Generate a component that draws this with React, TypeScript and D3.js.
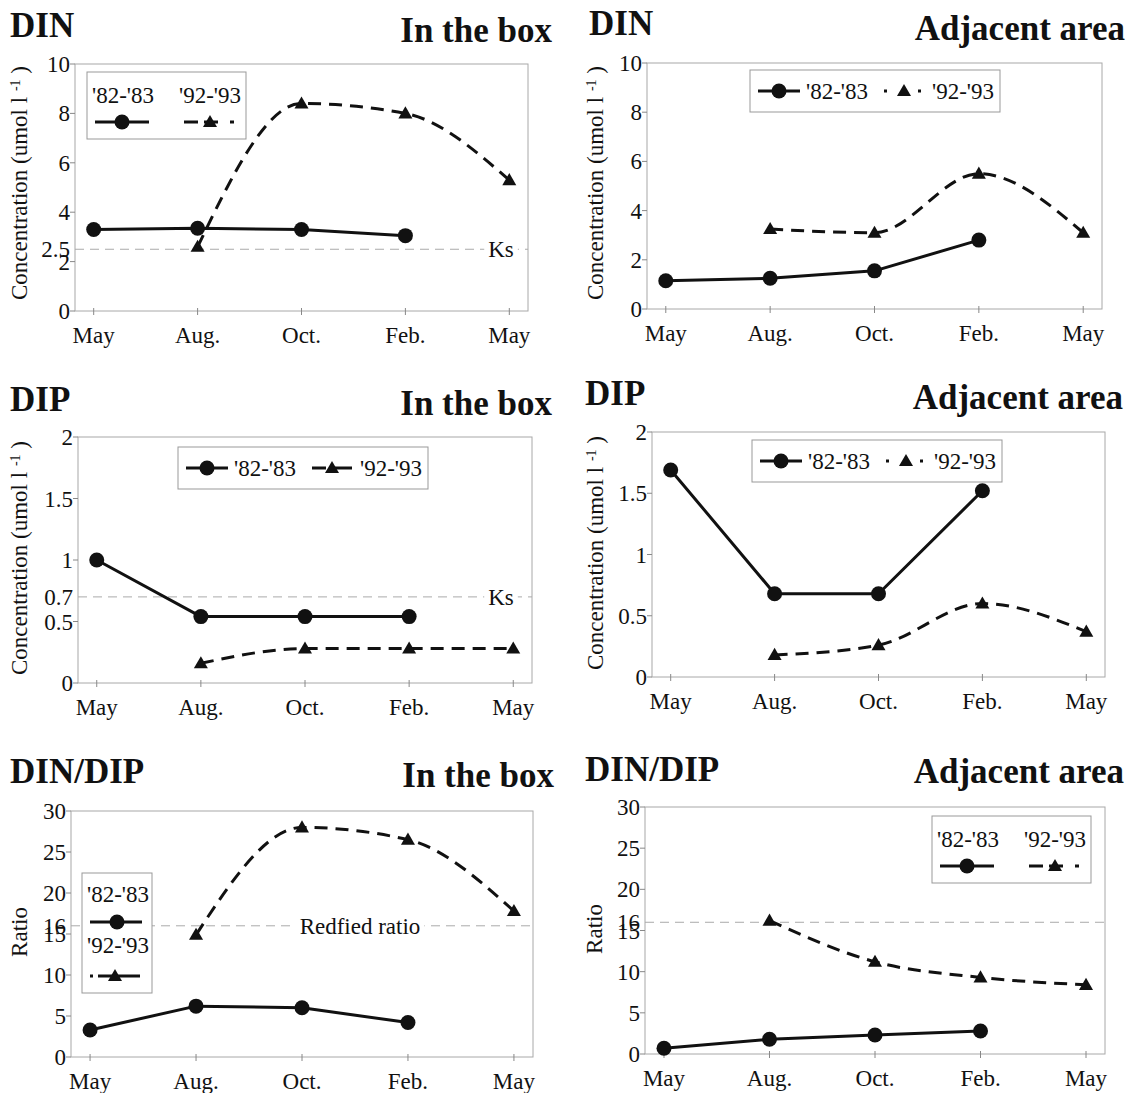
import React, { useEffect, useRef } from "react";
import * as d3 from "d3";

const meses = ["May", "Aug.", "Oct.", "Feb.", "May"];
const series = ["'82-'83", "'92-'93"];

// DIN (umol l-1)
const dinBox8283 = [3.3, 3.35, 3.3, 3.05, null];
const dinBox9293 = [null, 2.6, 8.4, 8.0, 5.3];
const dinAdj8283 = [1.15, 1.25, 1.55, 2.8, null];
const dinAdj9293 = [null, 3.25, 3.1, 5.5, 3.1];

// DIP (umol l-1)
const dipBox8283 = [1.0, 0.54, 0.54, 0.54, null];
const dipBox9293 = [null, 0.16, 0.28, 0.28, 0.28];
const dipAdj8283 = [1.69, 0.68, 0.68, 1.52, null];
const dipAdj9293 = [null, 0.18, 0.26, 0.6, 0.37];

// DIN/DIP
const ratioBox8283 = [3.3, 6.2, 6.0, 4.2, null];
const ratioBox9293 = [null, 14.9, 28.0, 26.5, 17.8];
const ratioAdj8283 = [0.7, 1.8, 2.3, 2.8, null];
const ratioAdj9293 = [null, 16.2, 11.2, 9.3, 8.4];

const dinTicks = [0, 2, 4, 6, 8, 10];
const dipTicks = [0, 0.5, 1, 1.5, 2];
const ratioTicks = [0, 5, 10, 15, 20, 25, 30];

const dinKs = 2.5;
const dipKs = 0.7;
const redfield = 16;

const FONTE = "'Liberation Serif', 'Times New Roman', serif";

type Painel = {
  titulo: string;
  local: string;
  a: (number | null)[];
  b: (number | null)[];
  max: number;
  ticks: number[];
  ref: number | null;
  refTick: boolean;
  refTexto: string;
  refX: number;
  eixo: string;
  box: number[]; // esquerda, direita, topo, base
  tit: number[]; // x titulo, baseline, fim do local, baseline
  lab: number[];
  leg: { tipo: string; x: number; y: number; tracejado: string };
};

const paineis: Painel[] = [
  {
    titulo: "DIN", local: "In the box", a: dinBox8283, b: dinBox9293, max: 10, ticks: dinTicks,
    ref: dinKs, refTick: true, refTexto: "Ks", refX: 501, eixo: "conc",
    box: [75, 528, 64, 311], tit: [10, 37, 552, 42], lab: [27, 183],
    leg: { tipo: "cols", x: 87, y: 72, tracejado: "14,6,14,12,4,20" },
  },
  {
    titulo: "DIN", local: "Adjacent area", a: dinAdj8283, b: dinAdj9293, max: 10, ticks: dinTicks,
    ref: null, refTick: false, refTexto: "", refX: 0, eixo: "conc",
    box: [647, 1102, 63, 309], tit: [589, 35, 1125, 40], lab: [603, 183],
    leg: { tipo: "row", x: 750, y: 70, tracejado: "3,14" },
  },
  {
    titulo: "DIP", local: "In the box", a: dipBox8283, b: dipBox9293, max: 2, ticks: dipTicks,
    ref: dipKs, refTick: true, refTexto: "Ks", refX: 501, eixo: "conc",
    box: [78, 532, 437, 683], tit: [10, 411, 552, 415], lab: [27, 558],
    leg: { tipo: "row", x: 178, y: 447, tracejado: "14,4,24" },
  },
  {
    titulo: "DIP", local: "Adjacent area", a: dipAdj8283, b: dipAdj9293, max: 2, ticks: dipTicks,
    ref: null, refTick: false, refTexto: "", refX: 0, eixo: "conc",
    box: [652, 1105, 432, 677], tit: [585, 405, 1123, 409], lab: [603, 553],
    leg: { tipo: "row", x: 752, y: 440, tracejado: "3,14" },
  },
  {
    titulo: "DIN/DIP", local: "In the box", a: ratioBox8283, b: ratioBox9293, max: 30, ticks: ratioTicks,
    ref: redfield, refTick: true, refTexto: "Redfied ratio", refX: 360, eixo: "ratio",
    box: [71, 533, 811, 1057], tit: [10, 783, 554, 787], lab: [27, 932],
    leg: { tipo: "stack", x: 82, y: 873, tracejado: "3,5,42" },
  },
  {
    titulo: "DIN/DIP", local: "Adjacent area", a: ratioAdj8283, b: ratioAdj9293, max: 30, ticks: ratioTicks,
    ref: redfield, refTick: true, refTexto: "", refX: 0, eixo: "ratio",
    box: [645, 1105, 807, 1054], tit: [585, 781, 1124, 783], lab: [602, 929],
    leg: { tipo: "cols", x: 932, y: 816, tracejado: "14,6,14,12,4,20" },
  },
];

const tri = d3.symbol().type(d3.symbolTriangle).size(85);

function circulo(g: any, cx: number, cy: number) {
  g.append("circle").attr("cx", cx).attr("cy", cy).attr("r", 7.5).attr("fill", "#111");
}
function triangulo(g: any, cx: number, cy: number) {
  g.append("path").attr("d", tri()).attr("transform", `translate(${cx},${cy + 1})`).attr("fill", "#111");
}
function amostra(g: any, xa: number, xb: number, yy: number, dash: string | null) {
  const l = g.append("line").attr("x1", xa).attr("x2", xb).attr("y1", yy).attr("y2", yy)
    .attr("stroke", "#111").attr("stroke-width", 3);
  if (dash) l.attr("stroke-dasharray", dash);
}
function texto(g: any, x: number, y: number, s: string, tam: number) {
  return g.append("text").attr("x", x).attr("y", y).attr("fill", "#111")
    .style("font-family", FONTE).style("font-size", tam + "px").text(s);
}

function legenda(g: any, leg: Painel["leg"]) {
  const { tipo, x, y, tracejado } = leg;
  let w = 250, h = 42;
  if (tipo === "cols") { w = 159; h = 67; }
  if (tipo === "stack") { w = 70; h = 120; }
  g.append("rect").attr("x", x).attr("y", y).attr("width", w).attr("height", h)
    .attr("fill", "#fff").attr("stroke", "#999").attr("stroke-width", 1);

  if (tipo === "cols") {
    texto(g, x + 5, y + 31, series[0], 23);
    texto(g, x + 92, y + 31, series[1], 23);
    amostra(g, x + 8, x + 62, y + 50, null);
    circulo(g, x + 35, y + 50);
    amostra(g, x + 97, x + 152, y + 50, tracejado);
    triangulo(g, x + 123, y + 50);
  } else if (tipo === "row") {
    amostra(g, x + 8, x + 50, y + 21, null);
    circulo(g, x + 29, y + 21);
    texto(g, x + 56, y + 29, series[0], 23);
    amostra(g, x + 134, x + 174, y + 21, tracejado);
    triangulo(g, x + 154, y + 21);
    texto(g, x + 182, y + 29, series[1], 23);
  } else {
    texto(g, x + 5, y + 29, series[0], 23);
    amostra(g, x + 8, x + 60, y + 49, null);
    circulo(g, x + 35, y + 49);
    texto(g, x + 5, y + 80, series[1], 23);
    amostra(g, x + 8, x + 58, y + 103, tracejado);
    triangulo(g, x + 33, y + 103);
  }
}

function desenhar(node: SVGSVGElement) {
  const svg = d3.select(node);
  svg.selectAll("*").remove();

  paineis.forEach((p) => {
    const [x0, x1, y0, y1] = p.box;
    const x = d3.scalePoint<number>().domain(d3.range(meses.length)).range([x0, x1]).padding(0.18);
    const y = d3.scaleLinear().domain([0, p.max]).range([y1, y0]);
    const g = svg.append("g");

    // titulos
    texto(g, p.tit[0], p.tit[1], p.titulo, 35).style("font-weight", "bold");
    texto(g, p.tit[2], p.tit[3], p.local, 35).style("font-weight", "bold").attr("text-anchor", "end");

    // caixa do grafico
    g.append("rect").attr("x", x0).attr("y", y0).attr("width", x1 - x0).attr("height", y1 - y0)
      .attr("fill", "none").attr("stroke", "#a8a8a8").attr("stroke-width", 1);

    // eixo y
    p.ticks.forEach((t) => {
      g.append("line").attr("x1", x0 - 5).attr("x2", x0).attr("y1", y(t)).attr("y2", y(t))
        .attr("stroke", "#888");
      texto(g, x0 - 5, y(t) + 8, String(t), 23).attr("text-anchor", "end");
    });

    // eixo x
    meses.forEach((m, i) => {
      g.append("line").attr("x1", x(i)!).attr("x2", x(i)!).attr("y1", y1 - 3).attr("y2", y1 + 4)
        .attr("stroke", "#888");
      texto(g, x(i)!, y1 + 32, m, 23).attr("text-anchor", "middle");
    });

    // titulo do eixo y
    const lab = g.append("text")
      .attr("transform", `translate(${p.lab[0]},${p.lab[1]}) rotate(-90)`)
      .attr("text-anchor", "middle").attr("fill", "#111")
      .style("font-family", FONTE).style("font-size", "23px");
    if (p.eixo === "conc") {
      lab.append("tspan").text("Concentration (umol l ");
      lab.append("tspan").attr("baseline-shift", "super").style("font-size", "14px").text("-1");
      lab.append("tspan").text(" )");
    } else {
      lab.text("Ratio");
    }

    // linha de referencia (Ks / Redfield)
    if (p.ref != null) {
      g.append("line").attr("x1", x0).attr("x2", x1).attr("y1", y(p.ref)).attr("y2", y(p.ref))
        .attr("stroke", "#aaa").attr("stroke-width", 1).attr("stroke-dasharray", "9,6");
      if (p.refTick) texto(g, x0 - 5, y(p.ref) + 8, String(p.ref), 23).attr("text-anchor", "end");
      if (p.refTexto) {
        const t = texto(g, p.refX, y(p.ref) + 8, p.refTexto, 23).attr("text-anchor", "middle");
        const bb = (t.node() as SVGTextElement).getBBox();
        g.insert("rect", () => t.node()).attr("x", bb.x - 4).attr("y", bb.y).attr("width", bb.width + 8)
          .attr("height", bb.height).attr("fill", "#fff");
      }
    }

    // serie '82-'83
    const linhaA = d3.line<number | null>().defined((d) => d != null)
      .x((d, i) => x(i)!).y((d) => y(d as number));
    g.append("path").attr("d", linhaA(p.a)).attr("fill", "none").attr("stroke", "#111")
      .attr("stroke-width", 3).attr("stroke-linejoin", "round");
    p.a.forEach((v, i) => { if (v != null) circulo(g, x(i)!, y(v)); });

    // serie '92-'93 (linha suavizada)
    const linhaB = d3.line<number | null>().defined((d) => d != null)
      .x((d, i) => x(i)!).y((d) => y(d as number)).curve(d3.curveMonotoneX);
    g.append("path").attr("d", linhaB(p.b)).attr("fill", "none").attr("stroke", "#111")
      .attr("stroke-width", 3).attr("stroke-dasharray", "13,8");
    p.b.forEach((v, i) => { if (v != null) triangulo(g, x(i)!, y(v)); });

    legenda(g, p.leg);
  });
}

export default function App() {
  const ref = useRef<SVGSVGElement>(null);

  useEffect(() => {
    document.body.style.margin = "0";
    if (ref.current) desenhar(ref.current);
  }, []);

  return (
    <svg ref={ref} width={1131} height={1093} style={{ display: "block", background: "#fff" }} />
  );
}
